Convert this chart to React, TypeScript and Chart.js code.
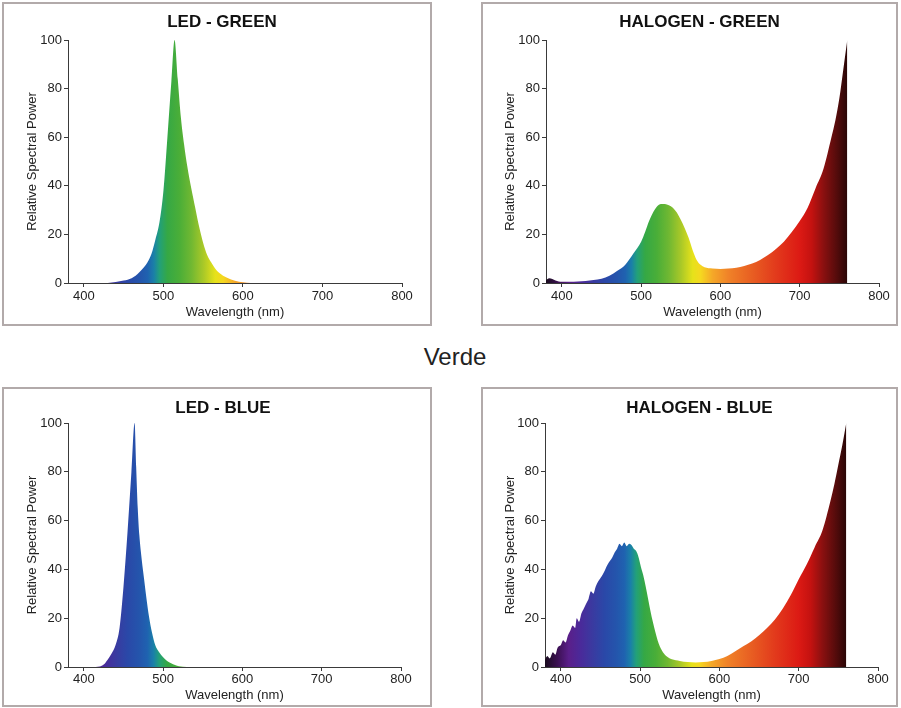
import React, { useEffect, useRef } from "react";
import { Chart, registerables } from "chart.js";

Chart.register(...registerables);

// ---------- axis ticks ----------
const X_TICKS = [400, 500, 600, 700, 800];
const X_MIN = 380;
const X_MAX = 800;
const Y_MIN = 0;
const Y_MAX = 100;
const Y_STEP = 20;

// ---------- LED - GREEN ----------
const LED_GREEN_NM = [430, 440, 450, 460, 465, 470, 476, 480, 485, 490, 495, 500, 505, 510, 514, 518, 522, 526, 530, 535, 540, 545, 550, 555, 560, 565, 570, 575, 580, 590, 600, 610];
const LED_GREEN_RSP = [0, 0.4, 1, 2, 3, 4.5, 6.7, 8.5, 12, 18, 25, 38, 60, 83, 100, 84, 68, 57, 48, 39, 31, 23, 16.5, 11.5, 8.5, 6, 4.2, 3, 2.2, 0.9, 0.3, 0];

// ---------- HALOGEN - GREEN ----------
const HALOGEN_GREEN_NM = [380, 384, 388, 392, 396, 400, 410, 420, 430, 440, 450, 460, 470, 480, 490, 500, 505, 510, 515, 520, 525, 530, 535, 540, 545, 550, 555, 560, 565, 570, 575, 580, 590, 600, 610, 620, 630, 640, 650, 660, 670, 680, 690, 700, 710, 720, 730, 740, 745, 750, 755, 760];
const HALOGEN_GREEN_RSP = [1.2, 2, 1.6, 1, 0.6, 0.5, 0.5, 0.6, 0.8, 1.2, 1.8, 3, 5, 7.5, 12, 17, 21, 25.5, 29, 31.5, 32.5, 32.5, 32, 31, 29, 26, 22.5, 18.5, 13.5, 9.5, 7.5, 6.5, 6, 5.8, 6, 6.3, 7, 8, 9.5, 11.5, 14, 17, 21, 25.5, 31, 39, 47, 60, 67, 76, 88, 100];

// ---------- LED - BLUE ----------
const LED_BLUE_NM = [415, 420, 425, 430, 435, 440, 445, 450, 455, 460, 464, 466, 468, 470, 473, 476, 479, 482, 486, 490, 495, 500, 505, 510, 515, 520, 530];
const LED_BLUE_RSP = [0, 0.2, 1, 3, 5.5, 9, 16, 33, 55, 80, 100, 82, 65, 54, 44, 36, 28, 21, 14, 9, 6, 4, 2.5, 1.5, 0.8, 0.3, 0];

// ---------- HALOGEN - BLUE ----------
const HALOGEN_BLUE_NM = [380, 383, 386, 390, 393, 396, 400, 403, 406, 409, 412, 415, 418, 420, 423, 426, 429, 432, 435, 438, 441, 444, 447, 450, 453, 456, 459, 462, 465, 468, 471, 474, 477, 480, 483, 486, 489, 492, 495, 498, 501, 504, 507, 510, 513, 516, 519, 522, 525, 530, 535, 540, 550, 560, 570, 580, 590, 600, 610, 620, 630, 640, 650, 660, 670, 680, 690, 700, 710, 720, 730, 740, 745, 750, 755, 760];
const HALOGEN_BLUE_RSP = [3, 4.5, 3.5, 6, 5, 8, 9, 11, 10, 13, 15, 17, 16, 20, 18.5, 22, 24, 26, 28, 31, 30, 33, 35, 36.5, 38, 40, 42, 43.5, 45, 47, 48.5, 50.5, 49.5, 51, 49.5, 50.5, 50, 48.5, 47.5, 45, 41, 37.5, 33, 28, 23, 18.5, 14.5, 11, 8.3, 5.5, 4, 3.2, 2.5, 2, 1.8, 2, 2.5, 3.3, 4.5, 6.5, 8.5, 10.5, 13, 16, 19.5, 24, 29.5, 36, 42, 49, 56, 68, 75, 83, 91, 100];

// ---------- spectrum colour stops (wavelength -> colour) ----------
const SPECTRUM_NM = [380, 395, 410, 425, 440, 455, 470, 480, 488, 495, 505, 520, 535, 550, 565, 575, 590, 610, 640, 670, 700, 715, 730, 745, 760];
const SPECTRUM_COLORS = ["#1a0d1f", "#3a1050", "#5a1f8a", "#4a2a9a", "#3a3aa0", "#2a48a8", "#2455ac", "#1f62b0", "#1a80a8", "#22a07a", "#35a845", "#4aae38", "#70b832", "#a8c828", "#e6e21a", "#f5d820", "#f5a828", "#f08228", "#e85e22", "#e23a1c", "#dc1a14", "#c41210", "#8a1010", "#5a0c0c", "#2a0606"];

const FONT = "'Liberation Sans', Arial, sans-serif";
const AXIS_COLOR = "#3a3a3a";
const TEXT_COLOR = "#222222";

function spectrumGradient(chart: any) {
  const xs = chart.scales && chart.scales.x;
  if (!xs || !chart.chartArea) return "rgba(0,0,0,0)";
  const x0 = xs.getPixelForValue(X_MIN);
  const x1 = xs.getPixelForValue(X_MAX);
  const g = chart.ctx.createLinearGradient(x0, 0, x1, 0);
  SPECTRUM_NM.forEach((nm, i) => {
    g.addColorStop((nm - X_MIN) / (X_MAX - X_MIN), SPECTRUM_COLORS[i]);
  });
  g.addColorStop(1, SPECTRUM_COLORS[SPECTRUM_COLORS.length - 1]);
  return g;
}

type PanelProps = {
  title: string;
  nm: number[];
  values: number[];
  left: number;
  top: number;
  width: number;
  height: number;
  padLeft: number;
  yAxisWidth: number;
  padRight: number;
  titlePadTop: number;
  titlePadBottom: number;
  xAxisHeight: number;
  xTitlePadBottom: number;
  yTitlePadTop: number;
  xTickPad: number;
};

function SpectrumPanel(p: PanelProps) {
  const ref = useRef<HTMLCanvasElement>(null);
  useEffect(() => {
    const canvas = ref.current;
    if (!canvas) return;
    const points = p.nm.map((x, i) => ({ x, y: p.values[i] }));
    const tickFont = { family: FONT, size: 13 };
    const chart = new Chart(canvas, {
      type: "line",
      data: {
        datasets: [
          {
            data: points,
            fill: "origin",
            borderWidth: 0,
            borderColor: "rgba(0,0,0,0)",
            pointRadius: 0,
            cubicInterpolationMode: "monotone",
            backgroundColor: (ctx: any) => spectrumGradient(ctx.chart),
          } as any,
        ],
      },
      options: {
        animation: false,
        responsive: false,
        maintainAspectRatio: false,
        layout: { padding: { left: p.padLeft, right: 0, top: 0, bottom: 0 } },
        plugins: {
          legend: { display: false },
          tooltip: { enabled: false },
          title: {
            display: true,
            text: p.title,
            color: "#111111",
            font: { family: FONT, size: 17, weight: "bold" },
            padding: { top: p.titlePadTop, bottom: p.titlePadBottom },
          },
        },
        scales: {
          x: {
            type: "linear",
            min: X_MIN,
            max: X_MAX,
            afterBuildTicks: (s: any) => {
              s.ticks = X_TICKS.map((v) => ({ value: v }));
            },
            afterFit: (s: any) => {
              s.height = p.xAxisHeight;
            },
            grid: { display: true, drawOnChartArea: false, drawTicks: true, tickLength: 4, color: AXIS_COLOR, lineWidth: 1 },
            border: { display: true, color: AXIS_COLOR, width: 1 },
            ticks: { color: TEXT_COLOR, font: tickFont, padding: p.xTickPad, maxRotation: 0, autoSkip: false },
            title: {
              display: true,
              text: "Wavelength (nm)",
              color: TEXT_COLOR,
              font: { family: FONT, size: 13 },
              padding: { top: 0, bottom: p.xTitlePadBottom },
            },
          },
          y: {
            type: "linear",
            min: Y_MIN,
            max: Y_MAX,
            afterFit: (s: any) => {
              s.width = p.yAxisWidth;
            },
            grid: { display: true, drawOnChartArea: false, drawTicks: true, tickLength: 4, color: AXIS_COLOR, lineWidth: 1 },
            border: { display: true, color: AXIS_COLOR, width: 1 },
            ticks: { stepSize: Y_STEP, color: TEXT_COLOR, font: tickFont, padding: 2 },
            title: {
              display: true,
              text: "Relative Spectral Power",
              color: TEXT_COLOR,
              font: { family: FONT, size: 13 },
              padding: { top: p.yTitlePadTop, bottom: 0 },
            },
          },
          yR: {
            type: "linear",
            position: "right",
            display: true,
            afterFit: (s: any) => {
              s.width = p.padRight;
            },
            grid: { display: false },
            border: { display: false },
            ticks: { display: false },
          },
        },
      } as any,
    });
    return () => chart.destroy();
  }, []);

  return (
    <div
      style={{
        position: "absolute",
        left: p.left,
        top: p.top,
        width: p.width + 4,
        height: p.height + 4,
        boxSizing: "border-box",
        border: "2px solid #b2aaaa",
        background: "#ffffff",
      }}
    >
      <canvas ref={ref} width={p.width} height={p.height} style={{ display: "block", width: p.width, height: p.height }} />
    </div>
  );
}

export default function App() {
  return (
    <div style={{ position: "absolute", left: 0, top: 0, width: 901, height: 708, background: "#ffffff", overflow: "hidden" }}>
      <SpectrumPanel
        title="LED - GREEN"
        nm={LED_GREEN_NM}
        values={LED_GREEN_RSP}
        left={2}
        top={2}
        width={426}
        height={320}
        padLeft={10}
        yAxisWidth={54}
        padRight={28}
        titlePadTop={7.8}
        titlePadBottom={7.8}
        xAxisHeight={41}
        xTitlePadBottom={4}
        yTitlePadTop={11}
        xTickPad={2}
      />
      <SpectrumPanel
        title="HALOGEN - GREEN"
        nm={HALOGEN_GREEN_NM}
        values={HALOGEN_GREEN_RSP}
        left={481}
        top={2}
        width={413}
        height={320}
        padLeft={20}
        yAxisWidth={43}
        padRight={17}
        titlePadTop={7.8}
        titlePadBottom={7.8}
        xAxisHeight={41}
        xTitlePadBottom={4}
        yTitlePadTop={0}
        xTickPad={2}
      />
      <div
        style={{
          position: "absolute",
          left: 355,
          top: 343,
          width: 200,
          textAlign: "center",
          fontFamily: FONT,
          fontSize: 24,
          lineHeight: "28px",
          color: "#222222",
        }}
      >
        Verde
      </div>
      <SpectrumPanel
        title="LED - BLUE"
        nm={LED_BLUE_NM}
        values={LED_BLUE_RSP}
        left={2}
        top={387}
        width={426}
        height={316}
        padLeft={12}
        yAxisWidth={52}
        padRight={29}
        titlePadTop={8.8}
        titlePadBottom={4.8}
        xAxisHeight={38}
        xTitlePadBottom={2}
        yTitlePadTop={9}
        xTickPad={1}
      />
      <SpectrumPanel
        title="HALOGEN - BLUE"
        nm={HALOGEN_BLUE_NM}
        values={HALOGEN_BLUE_RSP}
        left={481}
        top={387}
        width={413}
        height={316}
        padLeft={20}
        yAxisWidth={42}
        padRight={18}
        titlePadTop={8.8}
        titlePadBottom={4.8}
        xAxisHeight={38}
        xTitlePadBottom={2}
        yTitlePadTop={0}
        xTickPad={1}
      />
    </div>
  );
}
